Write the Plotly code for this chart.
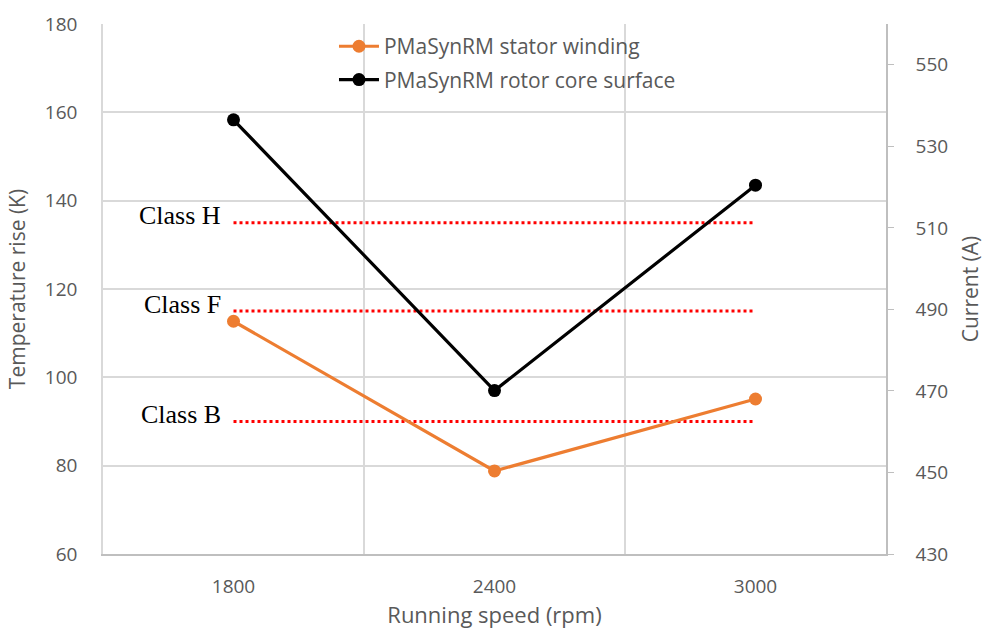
import plotly.graph_objects as go

# Running speeds (categories) and measured temperature rises (K)
speeds = ["1800", "2400", "3000"]
stator_winding = [112.7, 78.8, 95.1]
rotor_core_surface = [158.3, 97.0, 143.5]

# Insulation class temperature-rise limits (K)
class_names = ["Class H", "Class F", "Class B"]
class_limits = [135, 115, 90]

left_ticks = [60, 80, 100, 120, 140, 160, 180]
right_ticks = [430, 450, 470, 490, 510, 530, 550]

ORANGE = "#ED7D31"
GRID = "#D9D9D9"
TEXT = "#595959"
FONT = "Open Sans"

fig = go.Figure()

# Insulation class limit lines, labelled just left of the first category
for name, lim in zip(class_names, class_limits):
    fig.add_trace(go.Scatter(
        x=speeds, y=[lim] * len(speeds), mode="lines",
        line=dict(color="#FF0000", width=3, dash="dot"),
        showlegend=False, hoverinfo="skip"))
    fig.add_annotation(
        x=0, y=lim, xref="x", yref="y", xshift=-11, yshift=7,
        text=name, showarrow=False, xanchor="right", yanchor="middle",
        font=dict(family="Liberation Serif", size=26, color="#000000"))

fig.add_trace(go.Scatter(
    x=speeds, y=stator_winding, mode="lines+markers",
    name="PMaSynRM stator winding", legendgroup="a",
    line=dict(color=ORANGE, width=3.2), marker=dict(size=13, color=ORANGE)))
fig.add_trace(go.Scatter(
    x=speeds, y=rotor_core_surface, mode="lines+markers",
    name="PMaSynRM rotor core surface", legendgroup="b",
    line=dict(color="#000000", width=3.2), marker=dict(size=13, color="#000000")))

# Secondary current axis (scale only)
fig.add_trace(go.Scatter(x=speeds, y=[None] * 3, yaxis="y2",
                         showlegend=False, hoverinfo="skip"))

fig.update_layout(
    width=984, height=630,
    margin=dict(l=103, r=98, t=24, b=76),
    plot_bgcolor="white", paper_bgcolor="white",
    font=dict(family=FONT, color=TEXT),
    xaxis=dict(
        type="category", range=[-0.5, 2.5], tickson="boundaries",
        showgrid=True, gridcolor=GRID, gridwidth=1.5,
        showline=True, linecolor="#BFBFBF", linewidth=1.5,
        ticks="", ticklabelstandoff=14, tickfont=dict(size=19, color=TEXT),
        title=dict(text="Running speed (rpm)", font=dict(size=22, color=TEXT), standoff=9),
        zeroline=False, automargin=False),
    yaxis=dict(
        range=[60, 180], tickvals=left_ticks,
        showgrid=True, gridcolor=GRID, gridwidth=1.5,
        showline=True, linecolor=GRID, linewidth=1.5,
        ticks="", ticklabelstandoff=20, tickfont=dict(size=19, color=TEXT),
        title=dict(text="Temperature rise (K)", font=dict(size=21, color=TEXT), standoff=14),
        zeroline=False, automargin=False),
    yaxis2=dict(
        overlaying="y", side="right", range=[430, 560], tickvals=right_ticks,
        showgrid=False, showline=True, linecolor="#BFBFBF", linewidth=1.5,
        ticks="outside", ticklen=6, tickcolor="#BFBFBF", ticklabelstandoff=18,
        tickfont=dict(size=19, color=TEXT),
        title=dict(text="Current (A)", font=dict(size=21, color=TEXT), standoff=20),
        zeroline=False, automargin=False),
    legend=dict(
        x=0.295, y=0.996, xanchor="left", yanchor="top",
        bgcolor="rgba(255,255,255,0)", font=dict(size=21, color=TEXT),
        tracegroupgap=3, itemwidth=40),
)

fig.write_html("out.html")
